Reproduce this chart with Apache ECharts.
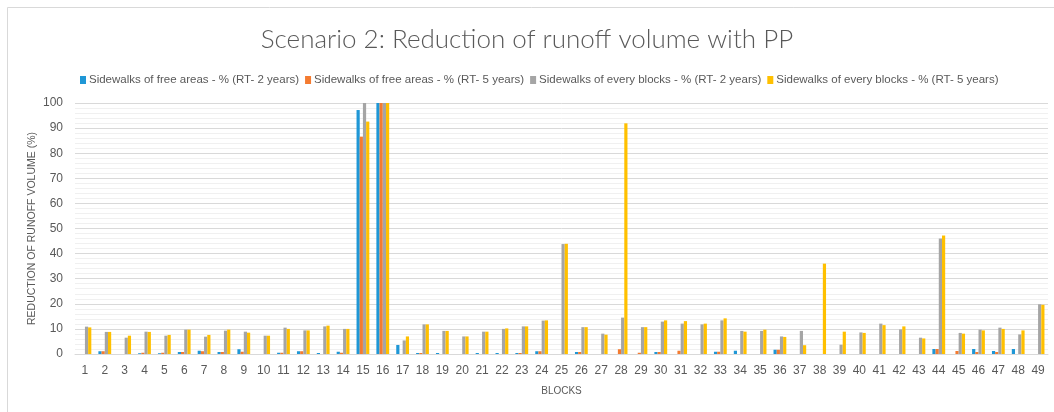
<!DOCTYPE html>
<html>
<head>
<meta charset="utf-8">
<script src="https://cdn.jsdelivr.net/npm/echarts@6/dist/echarts.min.js"></script>
<style>
  html, body { margin: 0; padding: 0; background: #ffffff; }
  #chart { width: 1054px; height: 412px; }
</style>
</head>
<body>
<div id="chart"></div>
<script>
// Blocks 1..49
const blocks = Array.from({ length: 49 }, (_, i) => String(i + 1));

const seriesNames = [
  'Sidewalks of free areas - % (RT- 2 years)',
  'Sidewalks of free areas - % (RT- 5 years)',
  'Sidewalks of every blocks - % (RT- 2 years)',
  'Sidewalks of every blocks - % (RT- 5 years)'
];

// Reduction of runoff volume (%) per block
const freeAreasRT2 = [
  0, 1.1, 0, 0.3, 0.3, 0.8, 1.3, 0.8, 1.9, 0,
  0.5, 1.1, 0.4, 0.9, 97.2, 100, 3.6, 0.4, 0.4, 0,
  0.4, 0.4, 0.4, 1.1, 0, 0.8, 0, 0, 0, 0.8,
  0, 0, 0.9, 1.3, 0, 1.7, 0, 0, 0, 0,
  0, 0, 0, 2.0, 0, 2.0, 1.2, 2.0, 0
];
const freeAreasRT5 = [
  0, 1.1, 0, 0.5, 0.5, 0.8, 1.1, 0.8, 0.9, 0,
  0.5, 1.1, 0, 0.5, 86.6, 100, 0, 0.4, 0, 0,
  0, 0, 0.4, 1.1, 0, 0.8, 0, 1.9, 0.5, 0.8,
  1.3, 0, 0.9, 0, 0, 1.7, 0, 0, 0, 0,
  0, 0, 0, 2.0, 1.2, 0.8, 0.8, 0, 0
];
const everyBlocksRT2 = [
  10.9, 8.8, 6.5, 8.9, 7.3, 9.7, 6.9, 9.3, 8.9, 7.3,
  10.5, 9.4, 11.0, 10.0, 100, 100, 5.4, 11.8, 9.2, 7.0,
  8.9, 10.0, 11.0, 13.3, 43.8, 10.7, 8.1, 14.5, 10.7, 12.9,
  12.1, 11.8, 13.4, 9.2, 9.2, 7.0, 9.2, 0, 3.7, 8.6,
  12.1, 9.8, 6.5, 46.0, 8.4, 9.7, 10.5, 7.8, 19.8
];
const everyBlocksRT5 = [
  10.6, 8.8, 7.3, 8.8, 7.6, 9.7, 7.6, 9.7, 8.5, 7.3,
  10.0, 9.4, 11.3, 10.0, 92.6, 100, 7.0, 11.8, 9.2, 7.0,
  8.9, 10.2, 11.0, 13.4, 43.9, 10.7, 7.7, 91.9, 10.7, 13.4,
  13.1, 12.1, 14.2, 8.9, 9.7, 6.8, 3.5, 36.0, 8.9, 8.4,
  11.5, 11.0, 6.2, 47.2, 8.1, 9.4, 10.0, 9.4, 19.6
];

const seriesData = [freeAreasRT2, freeAreasRT5, everyBlocksRT2, everyBlocksRT5];
const colors = ['#1f97d6', '#f47b30', '#a5a5a5', '#ffc000'];

const textColor = '#595959';
const fontFamily = 'Liberation Sans, Arial, sans-serif';

const chart = echarts.init(document.getElementById('chart'), null, { renderer: 'canvas' });

chart.setOption({
  animation: false,
  backgroundColor: '#ffffff',
  color: colors,
  textStyle: { fontFamily: fontFamily, color: textColor },
  graphic: [{
    type: 'rect',
    shape: { x: 7.5, y: 7.5, width: 1100, height: 500 },
    style: { fill: 'none', stroke: '#d9d9d9', lineWidth: 1 },
    silent: true
  }],
  title: {
    text: 'Scenario 2: Reduction of runoff volume with PP',
    left: 'center',
    top: 22,
    textStyle: {
      fontFamily: 'Lato, Liberation Sans, sans-serif',
      fontWeight: 300,
      fontSize: 26,
      color: textColor
    }
  },
  legend: {
    top: 69,
    left: 75,
    itemWidth: 6,
    itemHeight: 8,
    itemGap: 6,
    icon: 'rect',
    textStyle: { fontSize: 11.5, color: textColor, fontFamily: fontFamily, padding: [0, 0, 0, -2] },
    data: seriesNames
  },
  grid: {
    left: 75,
    right: 6,
    top: 103,
    bottom: 58,
    containLabel: false
  },
  xAxis: {
    type: 'category',
    data: blocks,
    name: 'BLOCKS',
    nameLocation: 'middle',
    nameGap: 32,
    nameTextStyle: { fontSize: 10, color: textColor },
    axisLine: { show: true, lineStyle: { color: '#d9d9d9', width: 1 } },
    axisTick: { show: false },
    axisLabel: { interval: 0, fontSize: 12, color: textColor, margin: 11 }
  },
  yAxis: {
    type: 'value',
    min: 0,
    max: 100,
    interval: 10,
    name: 'REDUCTION OF RUNOFF VOLUME (%)',
    nameLocation: 'middle',
    nameGap: 37,
    nameMoveOverlap: false,
    nameTextStyle: { fontSize: 10.5, color: textColor },
    axisLine: { show: false },
    axisTick: { show: false },
    axisLabel: { fontSize: 12, color: textColor, margin: 12 },
    splitLine: { show: true, lineStyle: { color: '#d9d9d9', width: 1 } },
    minorTick: { show: false, splitNumber: 5 },
    minorSplitLine: { show: true, lineStyle: { color: '#f0f0f0', width: 1 } }
  },
  series: seriesNames.map((name, i) => ({
    name: name,
    type: 'bar',
    data: seriesData[i],
    barWidth: 3.2,
    barGap: '0%',
    itemStyle: { color: colors[i] }
  }))
});
</script>
</body>
</html>
